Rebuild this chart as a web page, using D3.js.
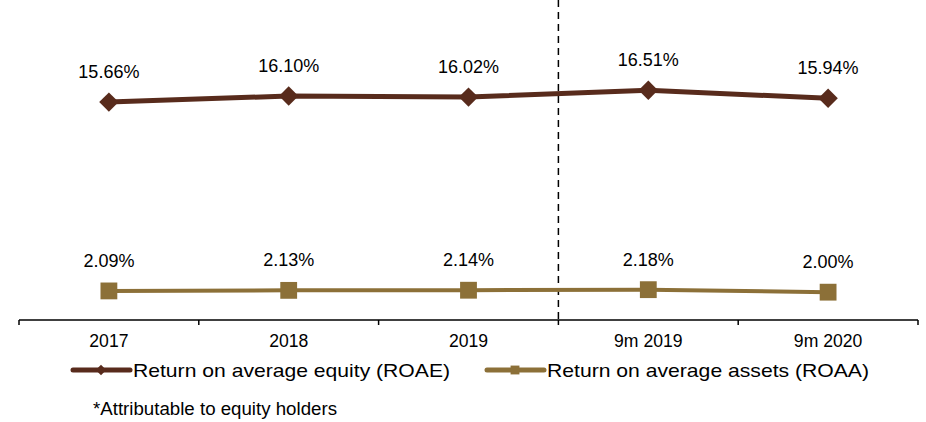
<!DOCTYPE html>
<html><head><meta charset="utf-8">
<script src="https://cdn.jsdelivr.net/npm/d3@7"></script>
<style>body{margin:0;background:#fff}svg{display:block;font-family:"Liberation Sans",Arial,sans-serif}</style>
</head><body><svg id="c" width="926" height="422"></svg>
<script>
const categories = ["2017","2018","2019","9m 2019","9m 2020"];
const roae = [15.66, 16.10, 16.02, 16.51, 15.94];
const roaa = [2.09, 2.13, 2.14, 2.18, 2.00];
const seriesNames = ["Return on average equity (ROAE)", "Return on average assets (ROAA)"];
const footnote = "*Attributable to equity holders";
const colROAE = "#582B1C", colROAA = "#8C7038";

const svg = d3.select("#c");
const x = d3.scaleBand().domain(categories).range([19, 918]);
const y = d3.scaleLinear().domain([0, 23]).range([320, 0]);
const cx = d => x(d) + x.bandwidth()/2;

// axis
const ax = svg.append("g").attr("transform","translate(0,320)")
  .call(d3.axisBottom(x).tickSize(0).tickPadding(0).tickFormat(""));
ax.select(".domain").attr("stroke","#000").attr("stroke-width",1.5).attr("d","M19,0H918");
const tickPos = [19].concat(categories.map(c => x(c) + x.bandwidth()));
svg.append("g").selectAll("line").data(tickPos).join("line")
  .attr("x1",d=>d).attr("x2",d=>d).attr("y1",320).attr("y2",325)
  .attr("stroke","#000").attr("stroke-width",1.5);
svg.append("g").selectAll("text").data(categories).join("text")
  .attr("x",d=>cx(d)).attr("y",347).attr("text-anchor","middle")
  .attr("font-size",17.6).attr("fill","#000").text(d=>d);

// dashed divider between 2019 and 9m 2019
const divX = x("9m 2019");
svg.append("line").attr("x1",divX).attr("x2",divX).attr("y1",0).attr("y2",320)
  .attr("stroke","#000").attr("stroke-width",1.5).attr("stroke-dasharray","7,5");

function drawSeries(vals, color, sw, shape, size){
  const line = d3.line().x((d,i)=>cx(categories[i])).y(d=>y(d));
  svg.append("path").datum(vals).attr("d",line).attr("fill","none")
    .attr("stroke",color).attr("stroke-width",sw);
  svg.append("g").selectAll("path").data(vals).join("path")
    .attr("transform",(d,i)=>`translate(${cx(categories[i])},${y(d)})`)
    .attr("d", d3.symbol().type(shape).size(size)).attr("fill",color);
  svg.append("g").selectAll("text").data(vals).join("text")
    .attr("x",(d,i)=>cx(categories[i])).attr("y",d=>y(d)-24)
    .attr("text-anchor","middle").attr("font-size",18).attr("fill","#000")
    .text(d=>d.toFixed(2)+"%");
}
drawSeries(roae, colROAE, 5, d3.symbolDiamond2, 240);
drawSeries(roaa, colROAA, 4, d3.symbolSquare2, 360);

// legend
function legendItem(x0, color, sw, shape, size, label, len){
  const g = svg.append("g");
  g.append("line").attr("x1",x0).attr("x2",x0+57).attr("y1",370).attr("y2",370)
    .attr("stroke",color).attr("stroke-width",sw).attr("stroke-linecap","round");
  g.append("path").attr("transform",`translate(${x0+28},370)`)
    .attr("d",d3.symbol().type(shape).size(size)).attr("fill",color);
  g.append("text").attr("x",x0+60).attr("y",377).attr("font-size",19).attr("fill","#000")
    .attr("textLength",len).attr("lengthAdjust","spacingAndGlyphs").text(label);
}
legendItem(73, colROAE, 5, d3.symbolDiamond2, 70, seriesNames[0], 317);
legendItem(487, colROAA, 5, d3.symbolSquare2, 100, seriesNames[1], 322);

svg.append("text").attr("x",93).attr("y",415).attr("font-size",17.5).attr("fill","#000")
  .attr("textLength",244).attr("lengthAdjust","spacingAndGlyphs").text(footnote);
</script></body></html>
